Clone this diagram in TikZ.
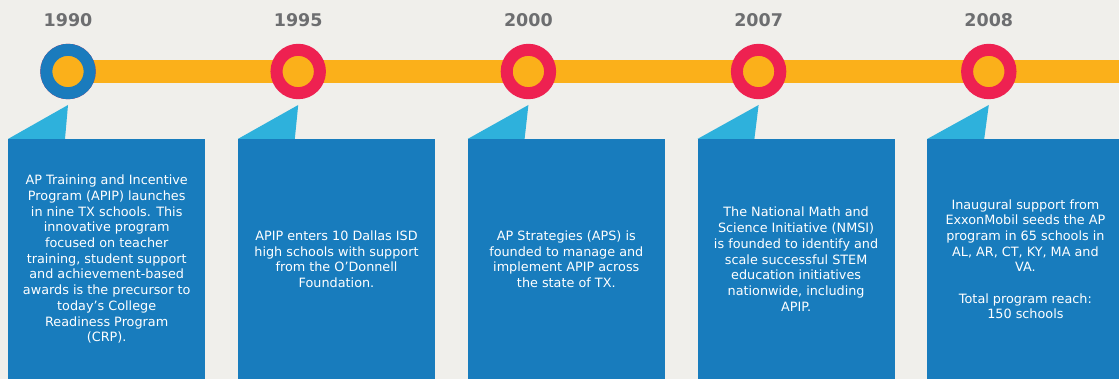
\documentclass[tikz,border=0pt]{standalone}
\usepackage{fontspec}
\setmainfont{DejaVu Sans}
\newfontfamily\yearfont{DejaVu Sans}
\usepackage{xcolor}
\definecolor{bgGray}{HTML}{F0EFEB}
\definecolor{barOrange}{HTML}{FBB01A}
\definecolor{ringRed}{HTML}{EE2151}
\definecolor{ringBlue}{HTML}{1A7BBD}
\definecolor{boxBlue}{HTML}{187CBD}
\definecolor{tailBlue}{HTML}{2EB1DC}
\definecolor{yearGray}{HTML}{6D6E70}

\tikzset{
	year/.style={text=yearGray,font=\yearfont\bfseries\fontsize{17.5}{20}\selectfont},
	ring/.style={circle,fill=barOrange,draw=ringRed,line width=12pt,minimum size=43.4pt,inner sep=0pt},
	infobox/.style={fill=boxBlue,minimum width=197pt,minimum height=240pt,anchor=north west,inner sep=0pt},
	boxtext/.style={align=center,text=white,font=\fontsize{12.8}{15.7}\selectfont},
	tail/.style={fill=tailBlue}
}

\begin{document}
\begin{tikzpicture}[x=1pt,y=-1pt]
	\pgfmathsetmacro{\stepLength}{230.2}
	\pgfmathsetmacro{\boxStep}{229.8}
	\useasboundingbox (0,0) rectangle (1119,379);
	\clip (0,0) rectangle (1119,379);
	\fill[bgGray] (0,0) rectangle (1119,379);

	% timeline bar
	\foreach \i in {0,...,4} {
		\coordinate (p\i) at (68+\i*\stepLength,71.5);
	}
	\coordinate (barEnd) at (1125,71.5);
	\draw[barOrange,line width=23pt] (p0) -- (barEnd);

	% years, rings and boxes
	\foreach \yr [count=\i from 0] in {1990,1995,2000,2007,2008} {
		\node[year] (y\i) at (68+\i*\stepLength,20) {\yr};
		\node[ring] (c\i) at (p\i) {};
		\node[infobox] (b\i) at (8+\i*\boxStep,139) {};
		\fill[tail] (b\i.north west) -- ([yshift=-5.8pt]c\i.south) -- ([xshift=57pt]b\i.north west) -- cycle;
	}
	\node[ring,draw=ringBlue] at (p0) {};

	\node[boxtext] (t0) at (b0.center) {AP Training and Incentive\\Program (APIP) launches\\in nine TX schools. This\\innovative program\\focused on teacher\\training, student support\\and achievement-based\\awards is the precursor to\\today’s College\\Readiness Program\\(CRP).};
	\node[boxtext] (t1) at (b1.center) {APIP enters 10 Dallas ISD\\high schools with support\\from the O’Donnell\\Foundation.};
	\node[boxtext] (t2) at (b2.center) {AP Strategies (APS) is\\founded to manage and\\implement APIP across\\the state of TX.};
	\node[boxtext] (t3) at (b3.center) {The National Math and\\Science Initiative (NMSI)\\is founded to identify and\\scale successful STEM\\education initiatives\\nationwide, including\\APIP.};
	\node[boxtext] (t4) at ([xshift=-0.5pt]b4.center) {Inaugural support from\\ExxonMobil seeds the AP\\program in 65 schools in\\AL, AR, CT, KY, MA and\\VA.\\[15.7pt]Total program reach:\\150 schools};
 \end{tikzpicture}
\end{document}
